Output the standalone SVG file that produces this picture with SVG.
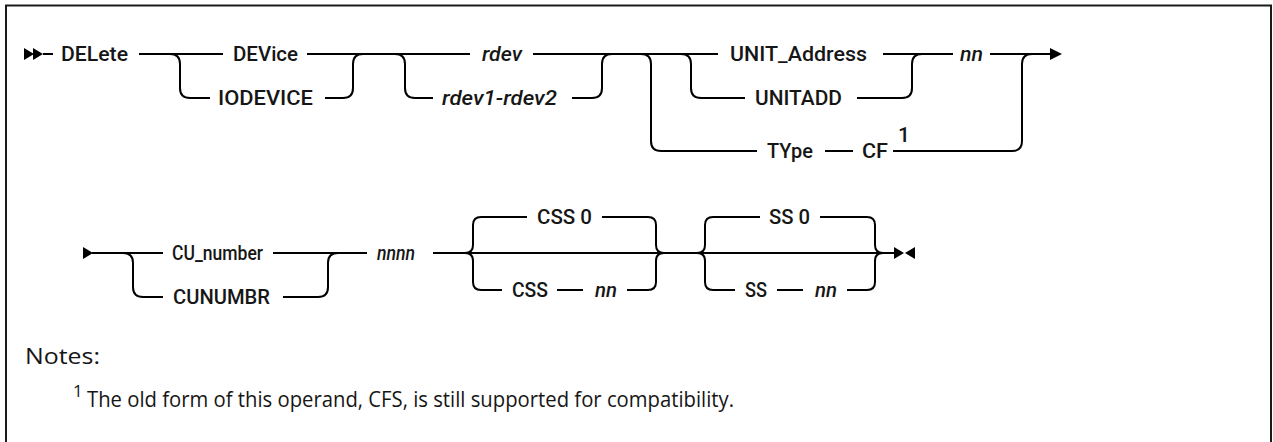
<svg xmlns="http://www.w3.org/2000/svg" width="1273" height="442" viewBox="0 0 1273 442">
<style>
.ln{fill:none;stroke:#000;stroke-width:2;stroke-linejoin:round}
.kw{font-family:Roboto,"Liberation Sans",Arial,sans-serif;font-size:21px;font-weight:500;fill:#161616}
.var{font-family:Roboto,"Liberation Sans",Arial,sans-serif;font-size:21px;font-weight:500;font-style:italic;fill:#161616}
.note{font-family:"Open Sans","Liberation Sans",Arial,sans-serif;font-size:22.5px;fill:#161616}
.sup{font-family:"Open Sans","Liberation Sans",Arial,sans-serif;font-size:17px;fill:#161616}
.mk{fill:#000}
</style>
<rect x="6" y="5.5" width="1265" height="460" fill="#fff" stroke="#1a1a1a" stroke-width="2"/>
<g id="connectors">
<path class="mk" d="M24,48 L34,54 L24,60 Z M33,48 L43,54 L33,60 Z"/>
<path class="ln" d="M43,54 H53"/>
<path class="ln" d="M139,54 H223 M307,54 H470 M533,54 H718 M883,54 H953 M990,54 H1052"/>
<path class="mk" d="M1050,48 L1062,54 L1050,60 Z"/>
<path class="ln" d="M170,54 Q180,54 180,64 V88 Q180,98 190,98 H210 M325,98 H343 Q353,98 353,88 V64 Q353,54 363,54"/>
<path class="ln" d="M395,54 Q405,54 405,64 V88 Q405,98 415,98 H433 M572,98 H592 Q602,98 602,88 V64 Q602,54 612,54"/>
<path class="ln" d="M641,54 Q651,54 651,64 V141 Q651,151 661,151 H757 M825,151 H853 M893,151 H1012 Q1022,151 1022,141 V64 Q1022,54 1032,54"/>
<path class="ln" d="M681,54 Q691,54 691,64 V88 Q691,98 701,98 H745 M857,98 H902 Q912,98 912,88 V64 Q912,54 922,54"/>
<path class="mk" d="M83,247 L93,253 L83,259 Z"/>
<path class="ln" d="M92,253 H163 M273,253 H367 M433,253 H894"/>
<path class="ln" d="M123,253 Q133,253 133,263 V287 Q133,297 143,297 H163 M283,297 H318 Q328,297 328,287 V263 Q328,253 338,253"/>
<path class="ln" d="M465,253 Q473,253 473,245 V225 Q473,217 481,217 H527 M602,217 H648 Q656,217 656,225 V245 Q656,253 664,253"/>
<path class="ln" d="M465,253 Q473,253 473,261 V282 Q473,290 481,290 H502 M557,290 H583 M627,290 H648 Q656,290 656,282 V261 Q656,253 664,253"/>
<path class="ln" d="M697,253 Q705,253 705,245 V225 Q705,217 713,217 H760 M820,217 H867 Q875,217 875,225 V245 Q875,253 883,253"/>
<path class="ln" d="M697,253 Q705,253 705,261 V282 Q705,290 713,290 H735 M777,290 H803 M847,290 H867 Q875,290 875,282 V261 Q875,253 883,253"/>
<path class="mk" d="M894,247 L904,253 L894,259 Z M915,247 L905,253 L915,259 Z"/>
</g>
<g id="n-delete"><text class="kw" x="61" y="61" textLength="67" lengthAdjust="spacingAndGlyphs">DELete</text></g>
<g id="n-device"><text class="kw" x="233" y="61" textLength="65" lengthAdjust="spacingAndGlyphs">DEVice</text></g>
<g id="n-iodevice"><text class="kw" x="218" y="105" textLength="95" lengthAdjust="spacingAndGlyphs">IODEVICE</text></g>
<g id="n-rdev"><text class="var" x="482" y="61" textLength="40" lengthAdjust="spacingAndGlyphs">rdev</text></g>
<g id="n-rdev12"><text class="var" x="442" y="105" textLength="115" lengthAdjust="spacingAndGlyphs">rdev1-rdev2</text></g>
<g id="n-unitaddress"><text class="kw" x="730" y="61" textLength="137" lengthAdjust="spacingAndGlyphs">UNIT_Address</text></g>
<g id="n-unitadd"><text class="kw" x="755" y="105" textLength="87" lengthAdjust="spacingAndGlyphs">UNITADD</text></g>
<g id="n-type"><text class="kw" x="767" y="158" textLength="46" lengthAdjust="spacingAndGlyphs">TYpe</text></g>
<g id="n-cf"><text class="kw" x="862" y="158" textLength="26" lengthAdjust="spacingAndGlyphs">CF</text><text class="kw" x="898" y="142">1</text></g>
<g id="n-nn1"><text class="var" x="960" y="61" textLength="23" lengthAdjust="spacingAndGlyphs">nn</text></g>
<g id="n-cunumber"><text class="kw" x="172" y="260" textLength="91" lengthAdjust="spacingAndGlyphs">CU_number</text></g>
<g id="n-cunumbr"><text class="kw" x="173" y="304" textLength="97" lengthAdjust="spacingAndGlyphs">CUNUMBR</text></g>
<g id="n-nnnn"><text class="var" x="377" y="260" textLength="38" lengthAdjust="spacingAndGlyphs">nnnn</text></g>
<g id="n-css0"><text class="kw" x="537" y="224" textLength="55" lengthAdjust="spacingAndGlyphs">CSS 0</text></g>
<g id="n-cssnn"><text class="kw" x="512" y="297" textLength="36" lengthAdjust="spacingAndGlyphs">CSS</text><text class="var" x="595" y="297" textLength="22" lengthAdjust="spacingAndGlyphs">nn</text></g>
<g id="n-ss0"><text class="kw" x="769" y="224" textLength="41" lengthAdjust="spacingAndGlyphs">SS 0</text></g>
<g id="n-ssnn"><text class="kw" x="745" y="297" textLength="22" lengthAdjust="spacingAndGlyphs">SS</text><text class="var" x="815" y="297" textLength="22" lengthAdjust="spacingAndGlyphs">nn</text></g>
<g id="notes">
<text class="note" x="25" y="364" textLength="75" lengthAdjust="spacingAndGlyphs">Notes:</text>
<text class="sup" x="73" y="397">1</text>
<text class="note" x="87" y="407" textLength="647" lengthAdjust="spacingAndGlyphs">The old form of this operand, CFS, is still supported for compatibility.</text>
</g>
</svg>
